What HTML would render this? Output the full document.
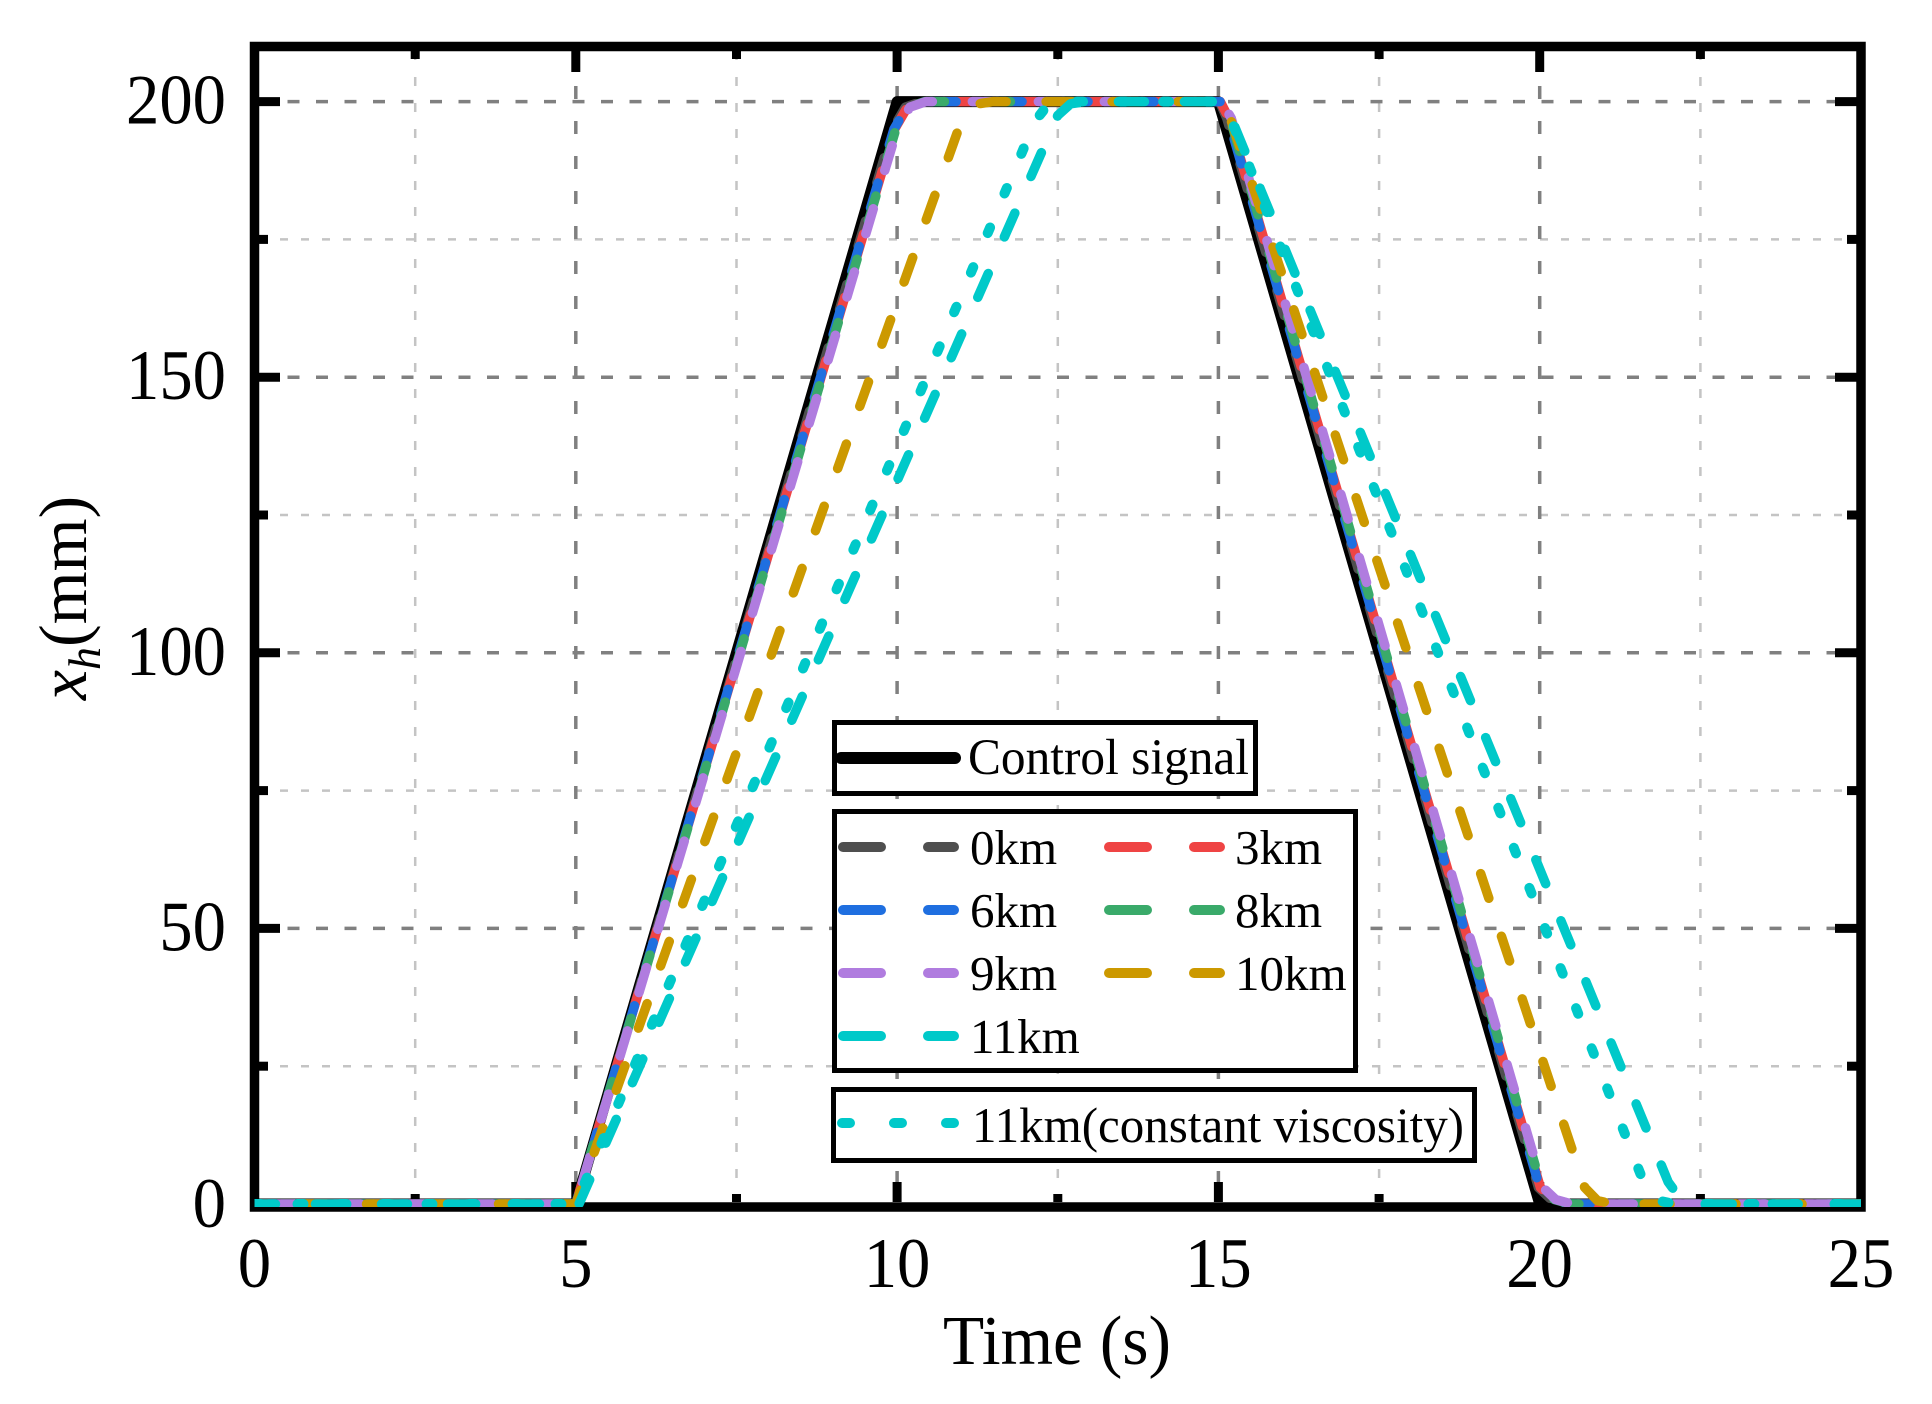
<!DOCTYPE html>
<html>
<head>
<meta charset="utf-8">
<style>
  html,body{margin:0;padding:0;background:#fff;}
  svg{display:block;}
  text{font-family:"Liberation Serif","Times New Roman",serif;fill:#000;}
</style>
</head>
<body>
<svg width="1932" height="1404" viewBox="0 0 1932 1404" xmlns="http://www.w3.org/2000/svg">
  <defs>
    <clipPath id="pa"><rect x="254.5" y="46.5" width="1606.5" height="1160.5"/></clipPath>
  </defs>
  <rect x="0" y="0" width="1932" height="1404" fill="#fff"/>

  <!-- minor grid -->
  <g stroke="#c4c4c4" stroke-width="2.5" fill="none" stroke-dasharray="9 17">
    <line x1="415.2" y1="51" x2="415.2" y2="1202"/>
    <line x1="736.5" y1="51" x2="736.5" y2="1202"/>
    <line x1="1057.8" y1="51" x2="1057.8" y2="1202"/>
    <line x1="1379.1" y1="51" x2="1379.1" y2="1202"/>
    <line x1="1700.4" y1="51" x2="1700.4" y2="1202"/>
  </g>
  <g stroke="#c4c4c4" stroke-width="2.5" fill="none" stroke-dasharray="8 13">
    <line x1="259" y1="1066.2" x2="1857" y2="1066.2"/>
    <line x1="259" y1="790.6" x2="1857" y2="790.6"/>
    <line x1="259" y1="515" x2="1857" y2="515"/>
    <line x1="259" y1="239.4" x2="1857" y2="239.4"/>
  </g>
  <!-- major grid -->
  <g stroke="#808080" stroke-width="3.5" fill="none" stroke-dasharray="13 22">
    <line x1="575.8" y1="51" x2="575.8" y2="1202"/>
    <line x1="897.1" y1="51" x2="897.1" y2="1202"/>
    <line x1="1218.4" y1="51" x2="1218.4" y2="1202"/>
    <line x1="1539.7" y1="51" x2="1539.7" y2="1202"/>
  </g>
  <g stroke="#808080" stroke-width="3.5" fill="none" stroke-dasharray="12 16.5">
    <line x1="259" y1="928.4" x2="1857" y2="928.4"/>
    <line x1="259" y1="652.8" x2="1857" y2="652.8"/>
    <line x1="259" y1="377.2" x2="1857" y2="377.2"/>
    <line x1="259" y1="101.6" x2="1857" y2="101.6"/>
  </g>

  <!-- frame -->
  <rect x="254.5" y="46.5" width="1606.5" height="1160.5" fill="none" stroke="#000" stroke-width="9.5"/>
  <!-- ticks -->
  <g stroke="#000" stroke-width="9">
    <line x1="575.8" y1="1202" x2="575.8" y2="1182"/>
    <line x1="897.1" y1="1202" x2="897.1" y2="1182"/>
    <line x1="1218.4" y1="1202" x2="1218.4" y2="1182"/>
    <line x1="1539.7" y1="1202" x2="1539.7" y2="1182"/>
    <line x1="415.2" y1="1202" x2="415.2" y2="1194"/>
    <line x1="736.5" y1="1202" x2="736.5" y2="1194"/>
    <line x1="1057.8" y1="1202" x2="1057.8" y2="1194"/>
    <line x1="1379.1" y1="1202" x2="1379.1" y2="1194"/>
    <line x1="1700.4" y1="1202" x2="1700.4" y2="1194"/>
    <line x1="575.8" y1="51" x2="575.8" y2="72"/>
    <line x1="897.1" y1="51" x2="897.1" y2="72"/>
    <line x1="1218.4" y1="51" x2="1218.4" y2="72"/>
    <line x1="1539.7" y1="51" x2="1539.7" y2="72"/>
    <line x1="415.2" y1="51" x2="415.2" y2="59"/>
    <line x1="736.5" y1="51" x2="736.5" y2="59"/>
    <line x1="1057.8" y1="51" x2="1057.8" y2="59"/>
    <line x1="1379.1" y1="51" x2="1379.1" y2="59"/>
    <line x1="1700.4" y1="51" x2="1700.4" y2="59"/>
    <line x1="259" y1="928.4" x2="280" y2="928.4"/>
    <line x1="259" y1="652.8" x2="280" y2="652.8"/>
    <line x1="259" y1="377.2" x2="280" y2="377.2"/>
    <line x1="259" y1="101.6" x2="280" y2="101.6"/>
    <line x1="259" y1="1066.2" x2="268" y2="1066.2"/>
    <line x1="259" y1="790.6" x2="268" y2="790.6"/>
    <line x1="259" y1="515" x2="268" y2="515"/>
    <line x1="259" y1="239.4" x2="268" y2="239.4"/>
    <line x1="1857" y1="928.4" x2="1835" y2="928.4"/>
    <line x1="1857" y1="652.8" x2="1835" y2="652.8"/>
    <line x1="1857" y1="377.2" x2="1835" y2="377.2"/>
    <line x1="1857" y1="101.6" x2="1835" y2="101.6"/>
    <line x1="1857" y1="1066.2" x2="1847" y2="1066.2"/>
    <line x1="1857" y1="790.6" x2="1847" y2="790.6"/>
    <line x1="1857" y1="515" x2="1847" y2="515"/>
    <line x1="1857" y1="239.4" x2="1847" y2="239.4"/>
  </g>

  <!-- data -->
  <g clip-path="url(#pa)" fill="none" stroke-linecap="round" stroke-linejoin="round">
    <path d="M254.5,1204 L575.8,1204 L897.1,101.6 L1218.4,101.6 L1539.7,1204 L1861,1204" stroke="#000" stroke-width="11"/>
    <path d="M254.5,1204 L575.8,1204 L892.6,129.2 L905.4,107.1 L921.5,101.6 L1219.4,101.6 L1226.7,118.1 L1538.4,1187.5 L1551.2,1199.6 L1567.3,1204 L1861,1204" stroke="#4f4f4f" stroke-width="9.5" stroke-dasharray="26 40" stroke-dashoffset="0"/>
    <path d="M254.5,1204 L575.8,1204 L894.6,129.2 L907.4,107.1 L923.5,101.6 L1220.3,101.6 L1228.7,118.1 L1540.4,1187.5 L1553.2,1199.6 L1569.3,1204 L1861,1204" stroke="#ef4444" stroke-width="9.5" stroke-dasharray="26 40" stroke-dashoffset="13"/>
    <path d="M254.5,1204 L575.8,1204 L893.9,129.2 L906.7,107.1 L922.8,101.6 L1220,101.6 L1228,118.1 L1539.7,1187.5 L1552.5,1199.6 L1568.6,1204 L1861,1204" stroke="#1f6fe0" stroke-width="9.5" stroke-dasharray="26 40" stroke-dashoffset="26"/>
    <path d="M254.5,1204 L575.8,1204 L895.8,129.2 L908.6,107.1 L924.7,101.6 L1221,101.6 L1229.9,118.1 L1541.6,1187.5 L1554.4,1199.6 L1570.5,1204 L1861,1204" stroke="#3aaa6a" stroke-width="9.5" stroke-dasharray="26 40" stroke-dashoffset="39"/>
    <path d="M254.5,1204 L575.8,1204 L897.1,129.2 L909.9,107.1 L926,101.6 L1221.6,101.6 L1231.2,118.1 L1542.9,1187.5 L1555.7,1199.6 L1571.8,1204 L1861,1204" stroke="#b07cdf" stroke-width="9.5" stroke-dasharray="26 40" stroke-dashoffset="52"/>
    <path d="M254.5,1204 L575.8,1204 L961.4,120.9 L974.2,104.4 L993.5,101.6 L1221.6,101.6 L1231.2,120.9 L1584.7,1187.5 L1597.5,1200.7 L1613.6,1204 L1861,1204" stroke="#cc9900" stroke-width="9.5" stroke-dasharray="26 40" stroke-dashoffset="20"/>
    <path d="M254.5,1204 L579,1204 L1057.8,115.4 L1070.6,103.8 L1086.7,101.6 L1221.6,101.6 L1231.2,118.1 L1668.2,1182 L1681.1,1199.6 L1697.1,1204 L1861,1204" stroke="#00c9c9" stroke-width="9.5" stroke-dasharray="26 40" stroke-dashoffset="5"/>
    <path d="M254.5,1204 L575.8,1204 L1035.3,120.9 L1048.1,104.4 L1064.2,101.6 L1221.6,101.6 L1231.2,119.8 L1645.7,1187.5 L1658.6,1200.7 L1674.6,1204 L1861,1204" stroke="#00c9c9" stroke-width="10" stroke-dasharray="6 37" stroke-dashoffset="0"/>
  </g>

  <!-- legend 1 -->
  <rect x="834.5" y="722.5" width="421" height="71" fill="#fff" stroke="#000" stroke-width="5"/>
  <line x1="841" y1="758" x2="955" y2="758" stroke="#000" stroke-width="12" stroke-linecap="round"/>
  <text x="968" y="774" font-size="51" textLength="281" lengthAdjust="spacingAndGlyphs">Control signal</text>

  <!-- legend 2 -->
  <rect x="834.5" y="811.5" width="521" height="259" fill="#fff" stroke="#000" stroke-width="5"/>
  <g fill="none" stroke-width="10" stroke-linecap="round" stroke-dasharray="38 47">
    <line x1="843" y1="847" x2="954" y2="847" stroke="#4f4f4f"/>
    <line x1="1109" y1="847" x2="1220" y2="847" stroke="#ef4444"/>
    <line x1="843" y1="910" x2="954" y2="910" stroke="#1f6fe0"/>
    <line x1="1109" y1="910" x2="1220" y2="910" stroke="#3aaa6a"/>
    <line x1="843" y1="973" x2="954" y2="973" stroke="#b07cdf"/>
    <line x1="1109" y1="973" x2="1220" y2="973" stroke="#cc9900"/>
    <line x1="843" y1="1036" x2="954" y2="1036" stroke="#00c9c9"/>
  </g>
  <g font-size="49">
    <text x="970" y="864">0km</text>
    <text x="1235" y="864">3km</text>
    <text x="970" y="927">6km</text>
    <text x="1235" y="927">8km</text>
    <text x="970" y="990">9km</text>
    <text x="1235" y="990">10km</text>
    <text x="970" y="1053">11km</text>
  </g>

  <!-- legend 3 -->
  <rect x="833.5" y="1089.5" width="641" height="71" fill="#fff" stroke="#000" stroke-width="5"/>
  <line x1="842" y1="1123" x2="954" y2="1123" stroke="#00c9c9" stroke-width="10" stroke-linecap="round" stroke-dasharray="8 44"/>
  <text x="972" y="1142" font-size="50" textLength="492" lengthAdjust="spacingAndGlyphs">11km(constant viscosity)</text>

  <!-- y tick labels -->
  <g font-size="71">
    <text x="126" y="123.6" textLength="100" lengthAdjust="spacingAndGlyphs">200</text>
    <text x="126" y="399.2" textLength="100" lengthAdjust="spacingAndGlyphs">150</text>
    <text x="126" y="674.8" textLength="100" lengthAdjust="spacingAndGlyphs">100</text>
    <text x="159.3" y="950.4" textLength="66.7" lengthAdjust="spacingAndGlyphs">50</text>
    <text x="192.6" y="1227" textLength="33.4" lengthAdjust="spacingAndGlyphs">0</text>
  </g>
  <!-- x tick labels -->
  <g font-size="71">
    <text x="237.8" y="1287" textLength="33.4" lengthAdjust="spacingAndGlyphs">0</text>
    <text x="559.1" y="1287" textLength="33.4" lengthAdjust="spacingAndGlyphs">5</text>
    <text x="863.7" y="1287" textLength="66.7" lengthAdjust="spacingAndGlyphs">10</text>
    <text x="1185" y="1287" textLength="66.7" lengthAdjust="spacingAndGlyphs">15</text>
    <text x="1506.3" y="1287" textLength="66.7" lengthAdjust="spacingAndGlyphs">20</text>
    <text x="1827.6" y="1287" textLength="66.7" lengthAdjust="spacingAndGlyphs">25</text>
  </g>

  <!-- axis titles -->
  <text x="943" y="1364" font-size="70" textLength="228" lengthAdjust="spacingAndGlyphs">Time (s)</text>
  <text transform="translate(86,598) rotate(-90)" text-anchor="middle" font-size="68"><tspan font-style="italic">x</tspan><tspan font-style="italic" font-size="46" dy="14">h</tspan><tspan dy="-14">(mm)</tspan></text>
</svg>
</body>
</html>
